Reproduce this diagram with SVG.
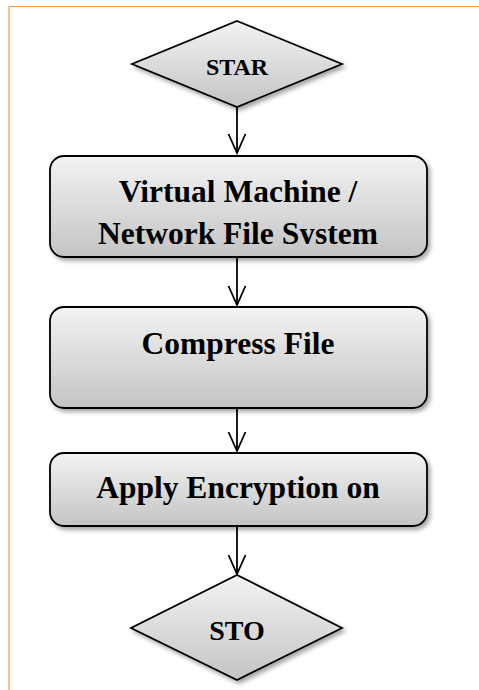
<svg xmlns="http://www.w3.org/2000/svg" width="479" height="690" viewBox="0 0 479 690">
<style>
.shape{fill:url(#g);stroke:#000;stroke-width:1.8;filter:url(#sh)}
.lbl{font-family:"Liberation Serif","Times New Roman",serif;font-weight:bold;fill:#000;text-anchor:middle}
.conn{stroke:#000;stroke-width:1.8;fill:none}
</style>
<defs>
<linearGradient id="g" x1="0" y1="0" x2="0" y2="1">
<stop offset="0" stop-color="#f3f3f3"/>
<stop offset="1" stop-color="#c4c4c4"/>
</linearGradient>
<filter id="sh" x="-10%" y="-10%" width="125%" height="130%">
<feDropShadow dx="2.5" dy="3" stdDeviation="2" flood-color="#000" flood-opacity="0.35"/>
</filter>
<marker id="ar" viewBox="0 0 22 20" refX="20" refY="10" markerWidth="22" markerHeight="20" markerUnits="userSpaceOnUse" orient="auto">
<path d="M1,1.5 L20,10 L1,18.5" fill="none" stroke="#000" stroke-width="1.8"/>
</marker>
<clipPath id="c1"><rect x="0" y="150" width="479" height="94"/></clipPath>
</defs>
<rect width="479" height="690" fill="#fff"/>
<g id="border">
<line x1="8" y1="6.5" x2="479" y2="6.5" stroke="#f79646" stroke-width="1.2"/>
<line x1="9" y1="6" x2="9" y2="690" stroke="#fbc08e" stroke-width="2"/>
</g>
<g id="connectors">
<line class="conn" x1="237" y1="107" x2="237" y2="153" marker-end="url(#ar)"/>
<line class="conn" x1="237" y1="257" x2="237" y2="305" marker-end="url(#ar)"/>
<line class="conn" x1="237" y1="408" x2="237" y2="451" marker-end="url(#ar)"/>
<line class="conn" x1="237" y1="526" x2="237" y2="574" marker-end="url(#ar)"/>
</g>
<g id="start">
<polygon class="shape" points="237,21 342,64 237,107 132,64"/>
<text class="lbl" x="237" y="75" font-size="24">STAR</text>
</g>
<g id="vm">
<rect class="shape" x="50" y="156" width="377" height="101" rx="14"/>
<g clip-path="url(#c1)">
<text class="lbl" x="238" y="202" font-size="31.5">Virtual Machine /</text>
<text class="lbl" x="238" y="244" font-size="31.5">Network File System</text>
</g>
</g>
<g id="compress">
<rect class="shape" x="50" y="307" width="377" height="101" rx="14"/>
<text class="lbl" x="238" y="354" font-size="31.5">Compress File</text>
</g>
<g id="encrypt">
<rect class="shape" x="50" y="453" width="377" height="73" rx="14"/>
<text class="lbl" x="238" y="498" font-size="31.5">Apply Encryption on</text>
</g>
<g id="stop">
<polygon class="shape" points="237,575 342,628 237,680 131,628"/>
<text class="lbl" x="237" y="640" font-size="28">STO</text>
</g>
</svg>
